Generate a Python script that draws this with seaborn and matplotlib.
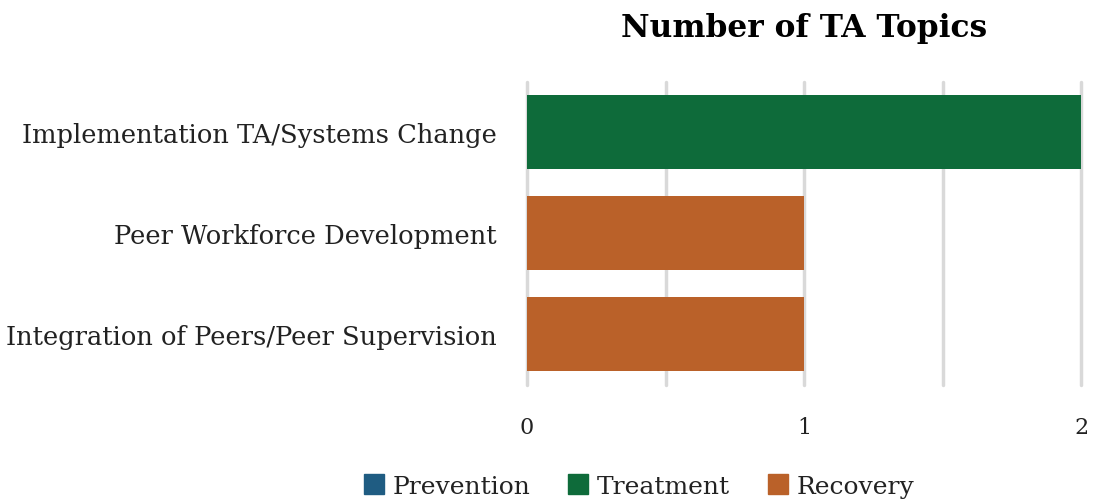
import matplotlib
matplotlib.use("Agg")
import matplotlib.pyplot as plt
import matplotlib.patches as mpatches
import seaborn as sns
import pandas as pd

categories = ["Implementation TA/Systems Change", "Peer Workforce Development",
              "Integration of Peers/Peer Supervision"]
values = [2, 1, 1]
sectors = ["Treatment", "Recovery", "Recovery"]
legend_levels = ["Prevention", "Treatment", "Recovery"]
colors = ["#1F5C82", "#0E6B3A", "#BA6129"]
x_ticks = [0, 1, 2]
title = "Number of TA Topics"

df = pd.DataFrame({"topic": categories, "count": values, "sector": sectors})
palette = dict(zip(legend_levels, colors))

sns.set_theme(style="white")
plt.rcParams["font.family"] = ["DejaVu Serif"]

fig = plt.figure(figsize=(10.97, 5.02), dpi=100)
ax = fig.add_axes([527/1097, 1 - 385.5/502, (1081-527)/1097, (385.5-82.5)/502])

sns.barplot(data=df, y="topic", x="count", hue="sector", hue_order=legend_levels,
            palette=palette, dodge=False, width=0.73, orient="h", ax=ax,
            legend=False, saturation=1, linewidth=0, zorder=3)

ax.set_xlim(0, 2)
ax.set_ylim(2.5, -0.5)
ax.set_xticks([0, 0.5, 1, 1.5, 2])
ax.set_xticklabels(["0", "", "1", "", "2"])
ax.grid(axis="x", color="#D9D9D9", linewidth=2.5, zorder=0)
ax.grid(axis="y", visible=False)
for gl in ax.get_xgridlines():
    gl.set_clip_on(False)
for s in ax.spines.values():
    s.set_visible(False)
ax.tick_params(axis="x", length=0, pad=23, labelsize=16, labelcolor="#222222")
ax.tick_params(axis="y", length=0, pad=22, labelsize=18.5, labelcolor="#222222")
ax.set_xlabel("")
ax.set_ylabel("")

fig.text(804/1097, 1 - 28/502, title, ha="center", va="center",
         fontsize=22.5, fontweight="bold", color="black")

handles = [mpatches.Patch(color=c, label=l) for l, c in zip(legend_levels, colors)]
fig.legend(handles=handles, loc="center", bbox_to_anchor=(639/1097, 1 - 487/502),
           ncol=3, frameon=False, fontsize=18, handlelength=0.8, handleheight=0.8,
           handletextpad=0.35, columnspacing=1.5, labelcolor="#222222")

fig.savefig("out.png", dpi=100)
